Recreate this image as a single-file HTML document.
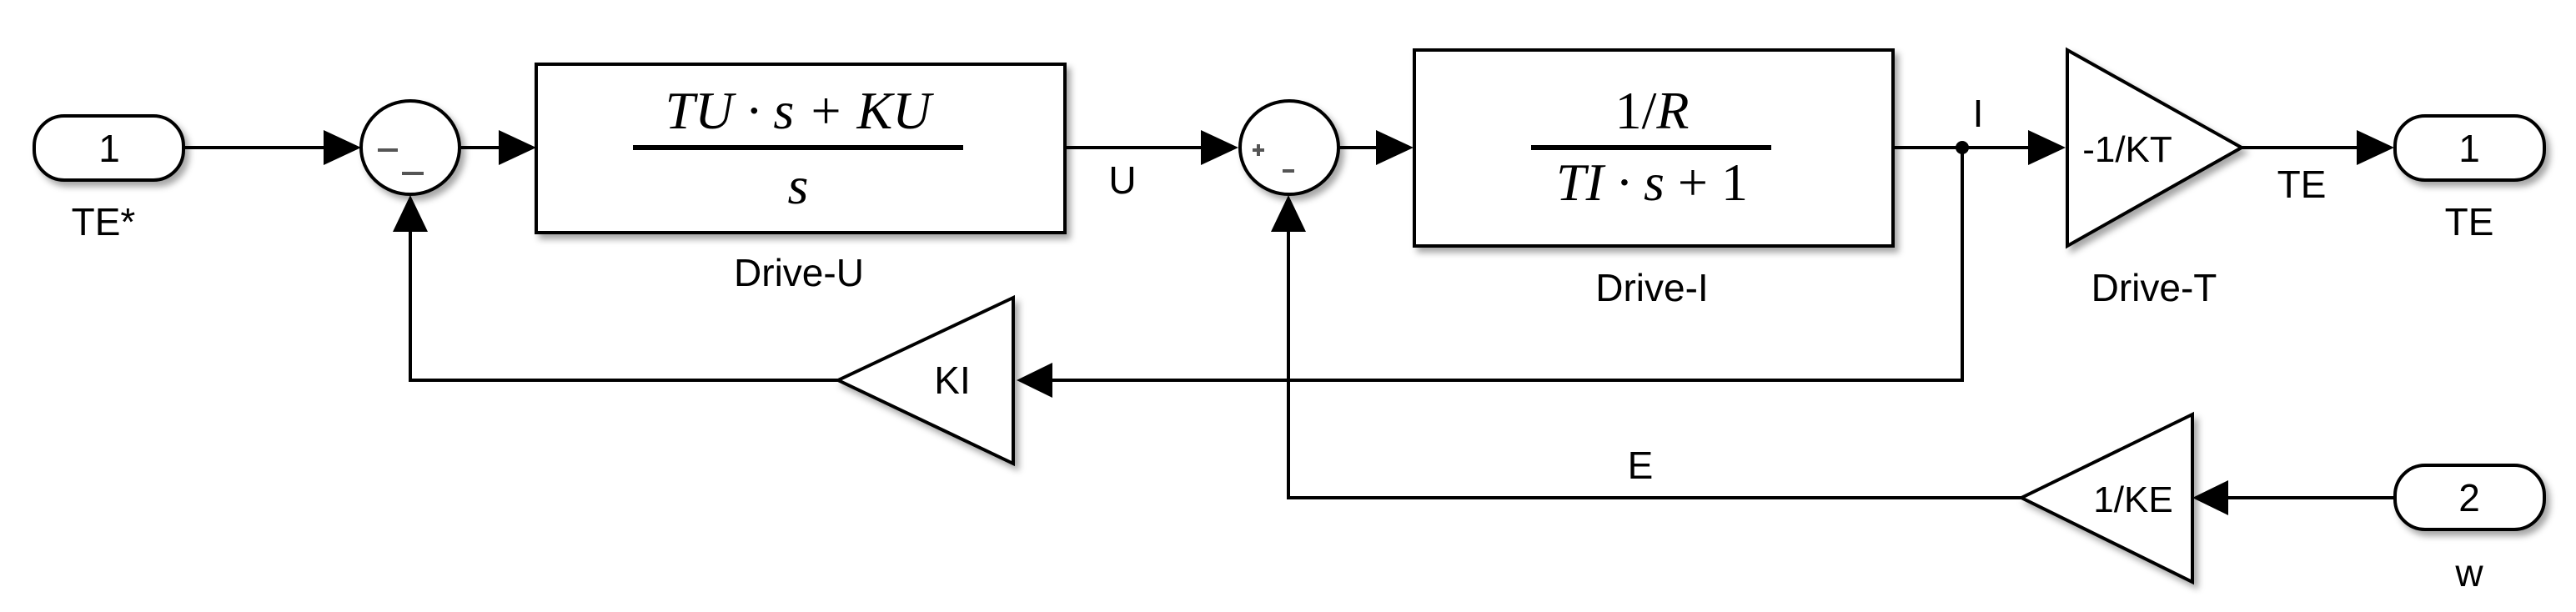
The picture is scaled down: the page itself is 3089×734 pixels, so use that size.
<!DOCTYPE html>
<html><head><meta charset="utf-8"><style>
html,body{margin:0;padding:0;background:#fff;}
svg{display:block;}
text{font-family:"Liberation Sans",sans-serif;fill:#000;}
.m{font-family:"Liberation Serif",serif;font-style:italic;}
</style></head><body>
<svg width="3089" height="734" viewBox="0 0 3089 734" xmlns="http://www.w3.org/2000/svg">
<defs>
<filter id="sh" x="-10%" y="-10%" width="130%" height="130%">
<feDropShadow dx="5" dy="6" stdDeviation="4" flood-color="#000" flood-opacity="0.35"/>
</filter>
</defs>
<g fill="none" stroke="#000" stroke-width="4">
<!-- main lines -->
<line x1="220" y1="177" x2="388" y2="177"/>
<line x1="553" y1="177" x2="598" y2="177"/>
<line x1="1277" y1="177" x2="1440" y2="177"/>
<line x1="1606" y1="177" x2="1650" y2="177"/>
<line x1="2270" y1="177" x2="2432" y2="177"/>
<line x1="2688" y1="177" x2="2826" y2="177"/>
<!-- I feedback -->
<polyline points="2353,177 2353,456 1262,456"/>
<polyline points="1005,456 492,456 492,278"/>
<!-- E feedback -->
<line x1="2872" y1="597" x2="2672" y2="597"/>
<polyline points="2424,597 1545,597 1545,278"/>
</g>
<g fill="#000">
<polygon points="388,156 433,177 388,198"/>
<polygon points="598,156 643,177 598,198"/>
<polygon points="1440,156 1485,177 1440,198"/>
<polygon points="1650,156 1695,177 1650,198"/>
<polygon points="2432,156 2477,177 2432,198"/>
<polygon points="2826,156 2871,177 2826,198"/>
<polygon points="1262,435 1219,456 1262,477"/>
<polygon points="2672,576 2629,597 2672,618"/>
<polygon points="471,278 492,234 513,278"/>
<polygon points="1524,278 1545,234 1566,278"/>
<circle cx="2353" cy="177" r="8"/>
</g>
<g fill="#fff" stroke="#000" stroke-width="4" filter="url(#sh)">
<rect x="41" y="139" width="179" height="77" rx="36"/>
<rect x="2872" y="139" width="179" height="77" rx="36"/>
<rect x="2872" y="558" width="179" height="77" rx="36"/>
<ellipse cx="492" cy="177" rx="59" ry="56"/>
<ellipse cx="1546" cy="177" rx="59" ry="56"/>
<rect x="643" y="77" width="634" height="202"/>
<rect x="1696" y="60" width="574" height="235"/>
<polygon points="2479,60 2688,177 2479,295"/>
<polygon points="1215,357 1005,456 1215,556"/>
<polygon points="2629,497 2424,597 2629,698"/>
</g>
<!-- sum signs -->
<g stroke="#555" stroke-width="4">
<line x1="453" y1="180" x2="477" y2="180"/>
<line x1="482" y1="208" x2="508" y2="208"/>
<line x1="1502" y1="180" x2="1516" y2="180"/><line x1="1509" y1="173" x2="1509" y2="187"/>
<line x1="1538" y1="205" x2="1552" y2="205"/>
</g>
<!-- fractions -->
<line x1="759" y1="177" x2="1155" y2="177" stroke="#000" stroke-width="6"/>
<text class="m" x="957" y="154" font-size="64" text-anchor="middle">TU · s + KU</text>
<text class="m" x="957" y="244" font-size="64" text-anchor="middle">s</text>
<line x1="1836" y1="177" x2="2124" y2="177" stroke="#000" stroke-width="6"/>
<text class="m" x="1981" y="154" font-size="64" text-anchor="middle"><tspan font-style="normal">1/</tspan>R</text>
<text class="m" x="1981" y="240" font-size="64" text-anchor="middle">TI · s <tspan font-style="normal">+ 1</tspan></text>
<!-- labels -->
<g font-size="46" text-anchor="middle">
<text x="131" y="194">1</text>
<text x="2961" y="194">1</text>
<text x="2961" y="613">2</text>
<text x="124" y="282">TE*</text>
<text x="958" y="343">Drive-U</text>
<text x="1981" y="361">Drive-I</text>
<text x="2583" y="361">Drive-T</text>
<text x="2961" y="282">TE</text>
<text x="2961" y="703">w</text>
<text x="1346" y="232">U</text>
<text x="2372" y="152">I</text>
<text x="2760" y="237">TE</text>
<text x="1967" y="574">E</text>
<text x="1142" y="472">KI</text>
<text x="2551" y="194" font-size="44">-1/KT</text>
<text x="2558" y="614" font-size="44">1/KE</text>
</g>
</svg>
</body></html>
